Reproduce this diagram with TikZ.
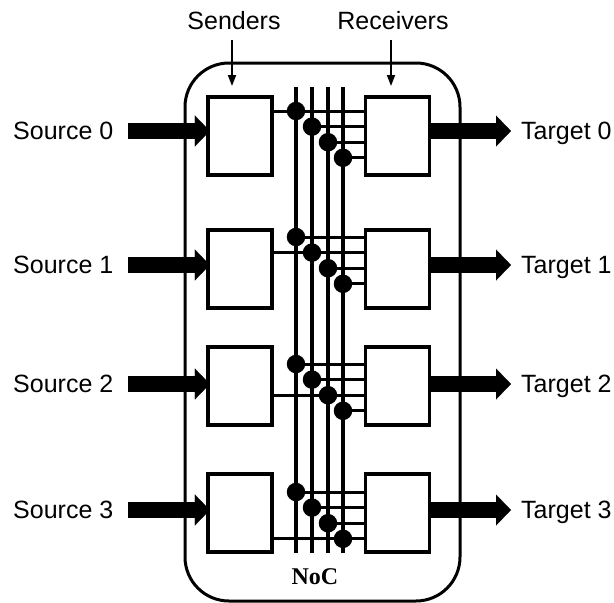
\documentclass[tikz,border=0pt]{standalone}
\usepackage{fontspec}
\setmainfont{Liberation Sans}
\newfontfamily\nocfont{Liberation Serif}
\usetikzlibrary{arrows.meta}

\begin{document}
\begin{tikzpicture}[x=1pt,y=-1pt,
  unit/.style={draw, line width=3.3pt, fill=white, minimum width=64pt,
    minimum height=78pt, inner sep=0pt},
  lbl/.style={font=\fontsize{25}{29}\selectfont, inner sep=0pt,
    text height=17.5pt, text depth=0pt},
  bigarrow/.style={line width=16pt,
    -{Triangle[width=31pt,length=15pt,line width=0.1pt]}},
  thinarrow/.style={line width=1.8pt, -{Triangle[width=8pt,length=11pt]}},
  wire/.style={line width=3pt},
  bus/.style={line width=3.3pt},
  tap/.style={circle, fill=black, minimum size=18.5pt, inner sep=0pt},
  frame/.style={line width=3pt, rounded corners=44pt}]

\useasboundingbox (0,0) rectangle (614,603);

% chip outline
\draw[frame] (185,63) rectangle (460,601);

% bus lines of the network on chip
\foreach \i/\bx in {0/296,1/312,2/328,3/343}{
  \coordinate (bt\i) at (\bx,87);
  \coordinate (bb\i) at (\bx,553);
  \draw[bus] (bt\i) -- (bb\i);
}

% rows: index / box top / arrow height / first tap height
\foreach \k/\top/\ay/\dy in {0/97/131/111, 1/230/265/237, 2/347/384/364, 3/474/510/492}{
  \node[unit] (s\k) at (240,\top+39) {};
  \node[unit] (r\k) at (397.5,\top+39) {};
  \node[lbl, anchor=east] (src\k) at (113.5,\ay) {Source \k};
  \node[lbl, anchor=west] (tgt\k) at (521,\ay) {Target \k};
  \draw[bigarrow, shorten <=14.5pt, shorten >=-3.5pt] (src\k.east) -- (src\k.east -| s\k.west);
  \draw[bigarrow, shorten <=-1.5pt, shorten >=10pt] (r\k.east |- tgt\k.west) -- (tgt\k.west);
  \foreach \i/\bx in {0/296,1/312,2/328,3/343}{
    \coordinate (d\k\i) at (\bx,\dy+15.6*\i);
    \draw[wire] (d\k\i) -- (d\k\i -| r\k.west);
  }
  \draw[wire] (s\k.east |- d\k\k) -- (d\k\k);
  \foreach \i in {0,1,2,3}{
    \node[tap] (tap\k\i) at (d\k\i) {};
  }
}

% headings with pointers to the first sender and receiver
\node[lbl] (sl) at (234,21) {Senders};
\node[lbl] (rl) at (393,21) {Receivers};
\coordinate (sa) at (232,40);
\coordinate (sb) at (232,86);
\coordinate (ra) at (391,40);
\coordinate (rb) at (391,86);
\draw[thinarrow] (sa) -- (sb);
\draw[thinarrow] (ra) -- (rb);

\node[font=\fontsize{24}{28}\selectfont\nocfont\bfseries, inner sep=0pt,
  text height=16pt, text depth=0pt] (noc) at (315,576) {NoC};
\end{tikzpicture}
\end{document}
